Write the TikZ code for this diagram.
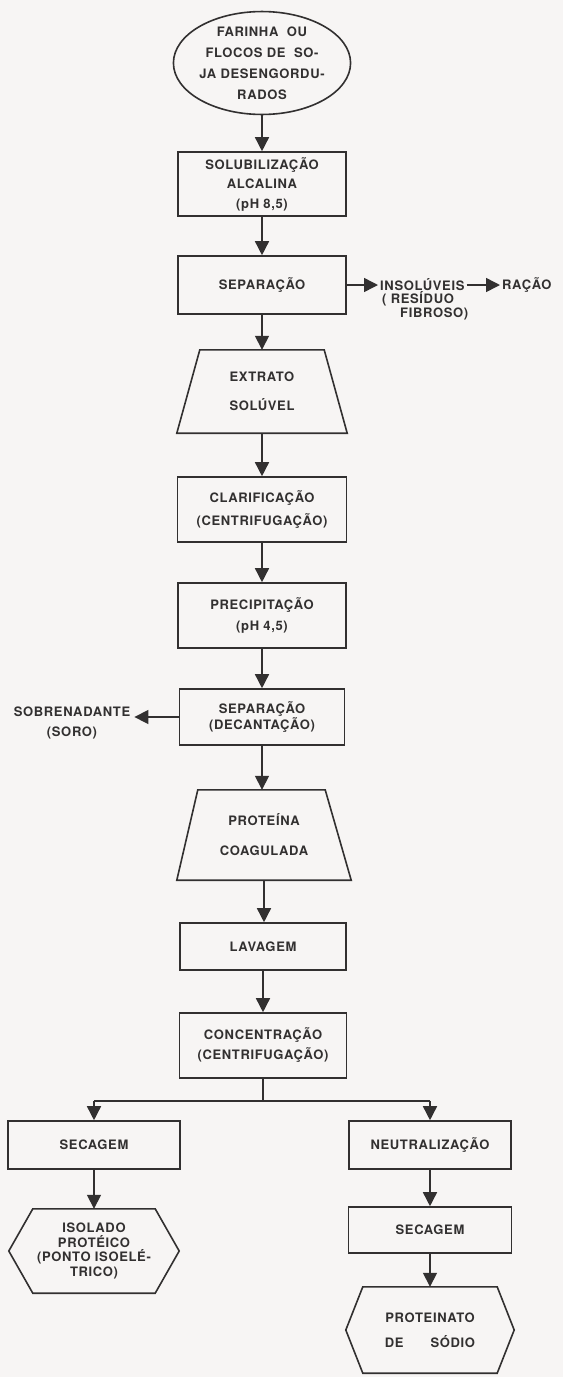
\documentclass[tikz,border=0pt]{standalone}
\usepackage{fontspec}
\usetikzlibrary{arrows.meta,shapes.geometric}
\newfontfamily\flowfont[LetterSpace=5]{TeX Gyre Heros}
\definecolor{paper}{RGB}{247,245,244}
\definecolor{ink}{RGB}{50,48,48}

\begin{document}
\begin{tikzpicture}[x=1pt,y=-1pt,
  every node/.style={font=\flowfont\bfseries\fontsize{13}{15}\selectfont, text=ink, align=center, inner sep=0pt},
  lines/.style={font=\flowfont\bfseries\fontsize{13}{#1}\selectfont},
  stepbox/.style={draw=ink, line width=1.6pt, rectangle},
  outline/.style={draw=ink, line width=1.6pt, line join=miter},
  wire/.style={draw=ink, line width=1.5pt},
  arr/.style={draw=ink, line width=1.5pt, -{Triangle[width=14pt,length=14pt]}},
  tag/.style={inner xsep=2pt}
]
% page
\fill[paper] (0,0) rectangle (563,1377);
\useasboundingbox (0,0) rectangle (563,1377);

% raw material
\node[ellipse, draw=ink, line width=1.6pt, minimum width=142pt, minimum height=96pt, lines=21] (src) at (262,63)
  {FARINHA\ \ OU\\FLOCOS DE\ \ SO-\\JA DESENGORDU-\\RADOS};

% main column
\node[stepbox, minimum width=168pt, minimum height=64pt, lines=19.5] (solub) at (262,184)
  {SOLUBILIZAÇÃO\\ALCALINA\\(pH 8,5)};
\node[stepbox, minimum width=168pt, minimum height=58pt] (sep) at (262,285) {SEPARAÇÃO};
\node[minimum width=170pt, minimum height=83pt, lines=29] (ext) at (262,391.5) {EXTRATO\\SOLÚVEL};
\draw[outline] (ext.south west) -- (ext.south east) -- ([xshift=-23pt]ext.north east)
  -- ([xshift=23pt]ext.north west) -- cycle;
\node[stepbox, minimum width=169pt, minimum height=65pt, lines=23] (clar) at (262,509.5)
  {CLARIFICAÇÃO\\(CENTRIFUGAÇÃO)};
\node[stepbox, minimum width=168pt, minimum height=65pt, lines=21] (prec) at (262,615.5)
  {PRECIPITAÇÃO\\(pH 4,5)};
\node[stepbox, minimum width=165pt, minimum height=56pt, lines=13.5] (sepdec) at (262,717)
  {SEPARAÇÃO\\(DECANTAÇÃO)};
\node[minimum width=174pt, minimum height=90pt, lines=30] (prot) at (264,835) {PROTEÍNA\\COAGULADA};
\draw[outline] (prot.south west) -- (prot.south east) -- ([xshift=-26pt]prot.north east)
  -- ([xshift=21pt]prot.north west) -- cycle;
\node[stepbox, minimum width=166pt, minimum height=47pt] (lav) at (263,946.5) {LAVAGEM};
\node[stepbox, minimum width=167pt, minimum height=65pt, lines=20] (conc) at (263,1045.5)
  {CONCENTRAÇÃO\\(CENTRIFUGAÇÃO)};

% side products
\node[tag, anchor=west] (insol) at (378,285) {INSOLÚVEIS};
\node[tag, anchor=west] (racao) at (500,285) {RAÇÃO};
\node[anchor=west] (resid) at (382,299) {( RESÍDUO};
\node[anchor=west] (fibr) at (400,314) {FIBROSO)};
\node[inner xsep=4pt, lines=20] (sobren) at (72,723) {SOBRENADANTE\\(SORO)};

% left branch
\node[stepbox, minimum width=172pt, minimum height=48pt] (secL) at (94,1145) {SECAGEM};
\node[minimum width=170pt, minimum height=84pt, lines=14.5] (isol) at (94,1251)
  {ISOLADO\\PROTÉICO\\(PONTO ISOELÉ-\\TRICO)};
\draw[outline] (isol.west) -- ([xshift=24pt]isol.north west) -- ([xshift=-24pt]isol.north east)
  -- (isol.east) -- ([xshift=-24pt]isol.south east) -- ([xshift=24pt]isol.south west) -- cycle;

% right branch
\node[stepbox, minimum width=162pt, minimum height=48pt] (neut) at (430,1145) {NEUTRALIZAÇÃO};
\node[stepbox, minimum width=163pt, minimum height=46pt] (secR) at (430,1230) {SECAGEM};
\node[minimum width=168pt, minimum height=86pt, lines=25] (prote) at (430,1330)
  {PROTEINATO\\DE\hspace{27pt}SÓDIO};
\draw[outline] (prote.west) -- ([xshift=17pt]prote.north west) -- ([xshift=-17pt]prote.north east)
  -- (prote.east) -- ([xshift=-17pt]prote.south east) -- ([xshift=17pt]prote.south west) -- cycle;

% connectors
\draw[arr] (src.south) -- (solub.north);
\draw[arr] (solub) -- (sep);
\draw[arr] (sep) -- (ext);
\draw[arr] (ext) -- (clar);
\draw[arr] (clar) -- (prec);
\draw[arr] (prec) -- (sepdec);
\draw[arr] (sepdec.south) -- (sepdec.south |- prot.north);
\draw[arr] (prot.south) -- (prot.south |- lav.north);
\draw[arr] (lav) -- (conc);
\draw[arr] (sep.east) -- (insol.west);
\draw[arr] (insol.east) -- (racao.west);
\draw[arr] (sepdec.west) -- (sepdec.west -| sobren.east);
\draw[wire] (conc.south) -- ++(0,22) coordinate (split);
\draw[wire] (split -| secL) -- (split -| neut);
\draw[arr] (split -| secL) -- (secL.north);
\draw[arr] (split -| neut) -- (neut.north);
\draw[arr] (secL) -- (isol);
\draw[arr] (neut) -- (secR);
\draw[arr] (secR) -- (prote);
\end{tikzpicture}
\end{document}
